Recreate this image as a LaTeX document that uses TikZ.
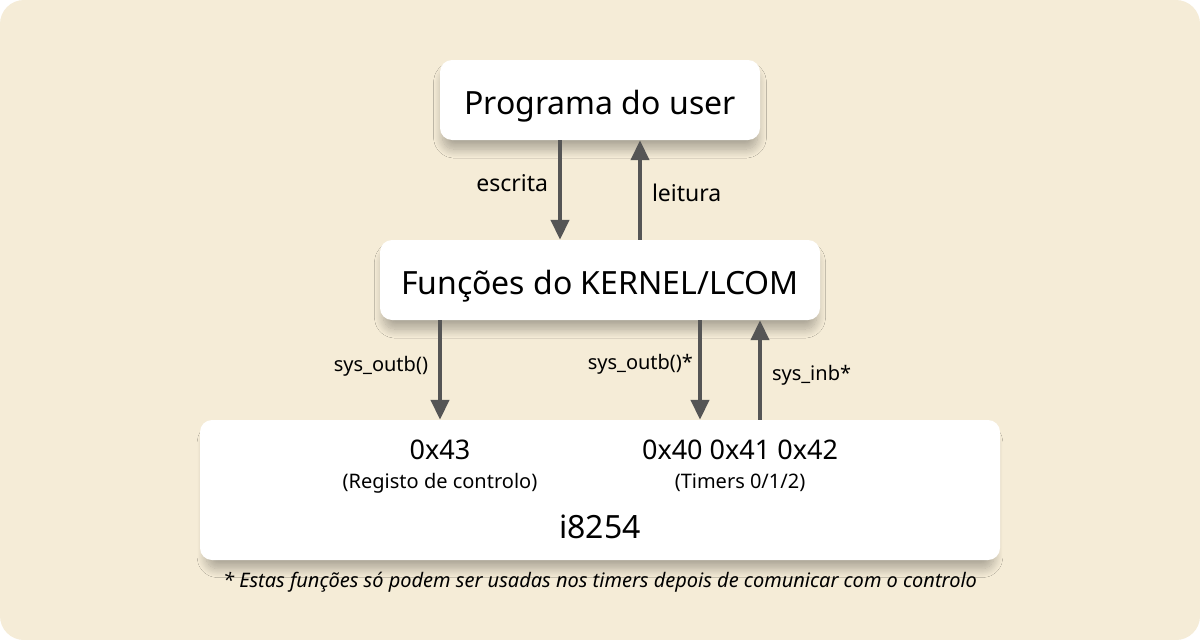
\documentclass[tikz,border=0pt]{standalone}
\usepackage{fontspec}
\setmainfont{Noto Sans}
\usetikzlibrary{arrows.meta,shadows.blur}
\definecolor{bgcream}{HTML}{F5ECD7}
\definecolor{arrowgray}{HTML}{555555}
\tikzset{
  box/.style={fill=white, rounded corners=12pt, inner sep=0pt,
    blur shadow={shadow xshift=0pt, shadow yshift=-10pt, shadow blur radius=9pt, shadow opacity=30, shadow blur steps=20, shadow scale=0.985}},
  title/.style={font=\fontsize{32}{38}\selectfont, text height=28pt, text depth=0pt},
  flow/.style={line width=4pt, draw=arrowgray, -{Triangle[length=20pt,width=18pt]}},
  lbl/.style={font=\fontsize{20}{24}\selectfont, inner sep=0pt},
  biglbl/.style={font=\fontsize{23}{28}\selectfont, inner sep=0pt}
}
\begin{document}
\begin{tikzpicture}[x=1pt,y=-1pt]
\fill[white] (0,0) rectangle (1200,640);
\fill[bgcream, rounded corners=24pt] (0,0) rectangle (1200,640);
\useasboundingbox (0,0) rectangle (1200,640);
%
\node[box, title, minimum width=320pt, minimum height=80pt] (user) at (600,100) {Programa do user};
\node[box, title, minimum width=440pt, minimum height=80pt] (kernel) at (600,280) {Funções do KERNEL/LCOM};
\node[box, minimum width=800pt, minimum height=140pt] (timer) at (600,490) {};
%
\node[font=\fontsize{27}{32}\selectfont] (ctrlport) at (440,450) {0x43};
\node[lbl] (ctrlname) at (440,483) {(Registo de controlo)};
\node[font=\fontsize{27}{32}\selectfont] (tports) at (740,450) {0x40 0x41 0x42};
\node[lbl] (tname) at (740,483) {(Timers 0/1/2)};
\node[font=\fontsize{32}{38}\selectfont] (chip) at (600,527) {i8254};
%
\draw[flow] ([xshift=-40pt]user.south) -- ([xshift=-40pt]kernel.north)
  node[biglbl, pos=0.43, left=10pt] (wr) {escrita};
\draw[flow] ([xshift=40pt]kernel.north) -- ([xshift=40pt]user.south)
  node[biglbl, pos=0.47, right=10pt] (rd) {leitura};
%
\draw[flow] ([xshift=-160pt]kernel.south) -- ([xshift=-160pt]timer.north)
  node[lbl, pos=0.46, left=10pt] (out1) {sys\_outb()};
\draw[flow] ([xshift=100pt]kernel.south) -- ([xshift=100pt]timer.north)
  node[lbl, pos=0.44, left=5pt] (out2) {sys\_outb()*};
\draw[flow] ([xshift=160pt]timer.north) -- ([xshift=160pt]kernel.south)
  node[lbl, pos=0.45, right=10pt] (in1) {sys\_inb*};
%
\node[lbl, font=\fontsize{20}{24}\selectfont\itshape] (note) at (600,582) {* Estas funções só podem ser usadas nos timers depois de comunicar com o controlo};
\end{tikzpicture}
\end{document}
